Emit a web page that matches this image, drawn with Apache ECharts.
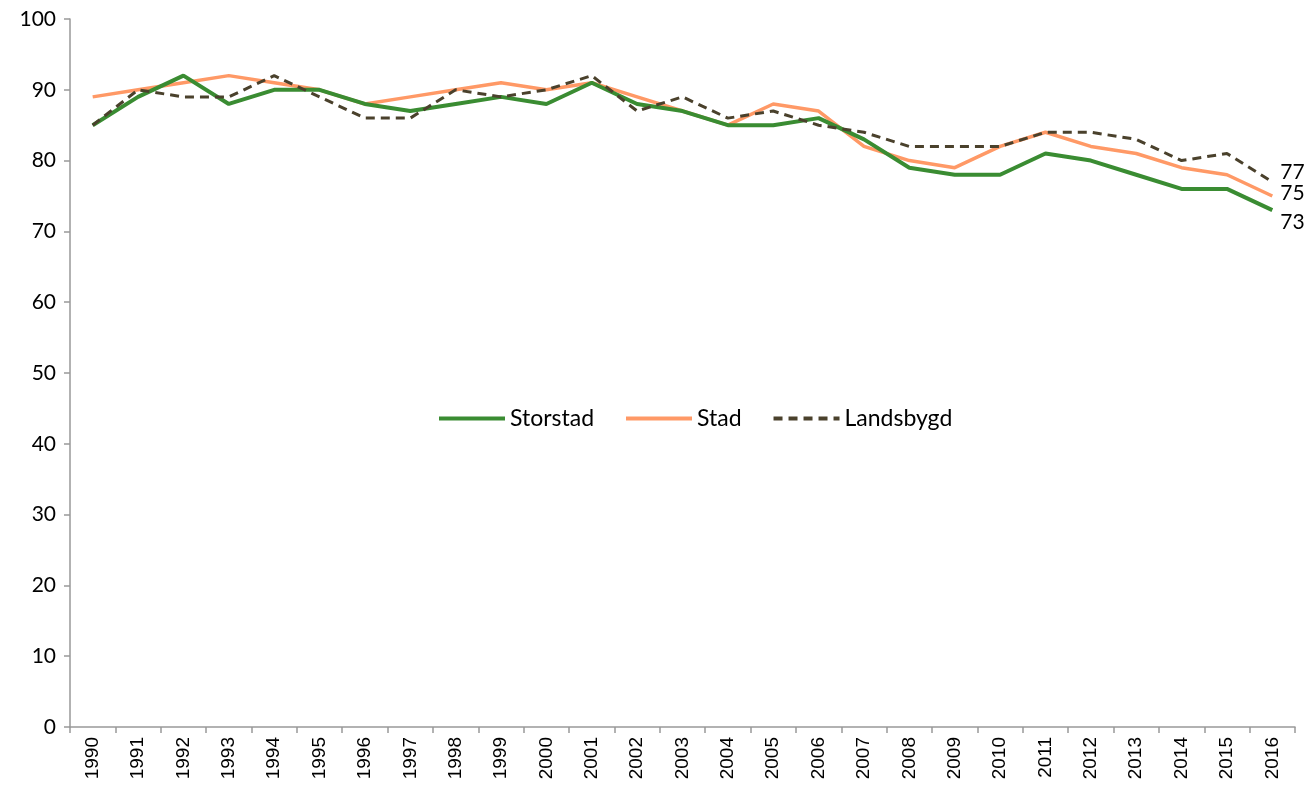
<!DOCTYPE html>
<html>
<head>
<meta charset="utf-8">
<script src="https://cdn.jsdelivr.net/npm/echarts@6/dist/echarts.min.js"></script>
<style>
  html, body { margin: 0; padding: 0; background: #fff; }
  #chart { width: 1313px; height: 792px; }
</style>
</head>
<body>
<div id="chart"></div>
<script>
// år
const years = ['1990', '1991', '1992', '1993', '1994', '1995', '1996', '1997', '1998', '1999',
  '2000', '2001', '2002', '2003', '2004', '2005', '2006', '2007', '2008', '2009',
  '2010', '2011', '2012', '2013', '2014', '2015', '2016']

const storstad = [85, 89, 92, 88, 90, 90, 88, 87, 88, 89, 88, 91, 88, 87, 85, 85, 86, 83, 79, 78, 78, 81, 80, 78, 76, 76, 73]
const stad = [89, 90, 91, 92, 91, 90, 88, 89, 90, 91, 90, 91, 89, 87, 85, 88, 87, 82, 80, 79, 82, 84, 82, 81, 79, 78, 75]
const landsbygd = [85, 90, 89, 89, 92, 89, 86, 86, 90, 89, 90, 92, 87, 89, 86, 87, 85, 84, 82, 82, 82, 84, 84, 83, 80, 81, 77]

const labelFont = 'Liberation Sans, Arial, sans-serif'
const textFont = 'Lato, Open Sans, sans-serif'

const chart = echarts.init(document.getElementById('chart'))

function endLabel(dy) {
  return {
    show: true,
    formatter: '{c}',
    color: '#000',
    fontSize: 21,
    fontFamily: textFont,
    distance: 8,
    offset: [0, dy]
  }
}

const option = {
  animation: false,
  grid: {
    left: 70,
    right: 18,
    top: 19,
    bottom: 65
  },
  legend: {
    data: ['Storstad', 'Stad', 'Landsbygd'],
    left: 432,
    top: 402,
    itemWidth: 66,
    itemHeight: 14,
    itemGap: 30,
    itemStyle: { opacity: 0 },
    lineStyle: { width: 4 },
    textStyle: {
      fontSize: 23,
      fontFamily: textFont,
      color: '#000'
    }
  },
  xAxis: {
    type: 'category',
    data: years,
    boundaryGap: true,
    axisLine: { lineStyle: { color: '#999', width: 1.5 } },
    axisTick: { show: true, length: 6, lineStyle: { color: '#999', width: 1.5 } },
    axisLabel: {
      rotate: 90,
      interval: 0,
      fontSize: 19,
      fontFamily: labelFont,
      color: '#000',
      margin: 10
    },
    splitLine: { show: false }
  },
  yAxis: {
    type: 'value',
    min: 0,
    max: 100,
    interval: 10,
    axisLine: { show: true, lineStyle: { color: '#999', width: 1.5 } },
    axisTick: { show: true, length: 6, lineStyle: { color: '#999', width: 1.5 } },
    axisLabel: {
      fontSize: 21,
      fontFamily: textFont,
      color: '#000',
      margin: 14
    },
    splitLine: { show: false }
  },
  series: [
    {
      name: 'Storstad',
      type: 'line',
      data: storstad,
      symbol: 'none',
      color: '#3a8c32',
      lineStyle: { color: '#3a8c32', width: 4 },
      endLabel: endLabel(12),
      z: 3
    },
    {
      name: 'Stad',
      type: 'line',
      data: stad,
      symbol: 'none',
      color: '#ff9966',
      lineStyle: { color: '#ff9966', width: 3.5 },
      endLabel: endLabel(-3),
      z: 2
    },
    {
      name: 'Landsbygd',
      type: 'line',
      data: landsbygd,
      symbol: 'none',
      color: '#4a412c',
      lineStyle: { color: '#4a412c', width: 3, type: [9, 6] },
      endLabel: endLabel(-10),
      z: 4
    }
  ]
}

chart.setOption(option)
</script>
</body>
</html>
